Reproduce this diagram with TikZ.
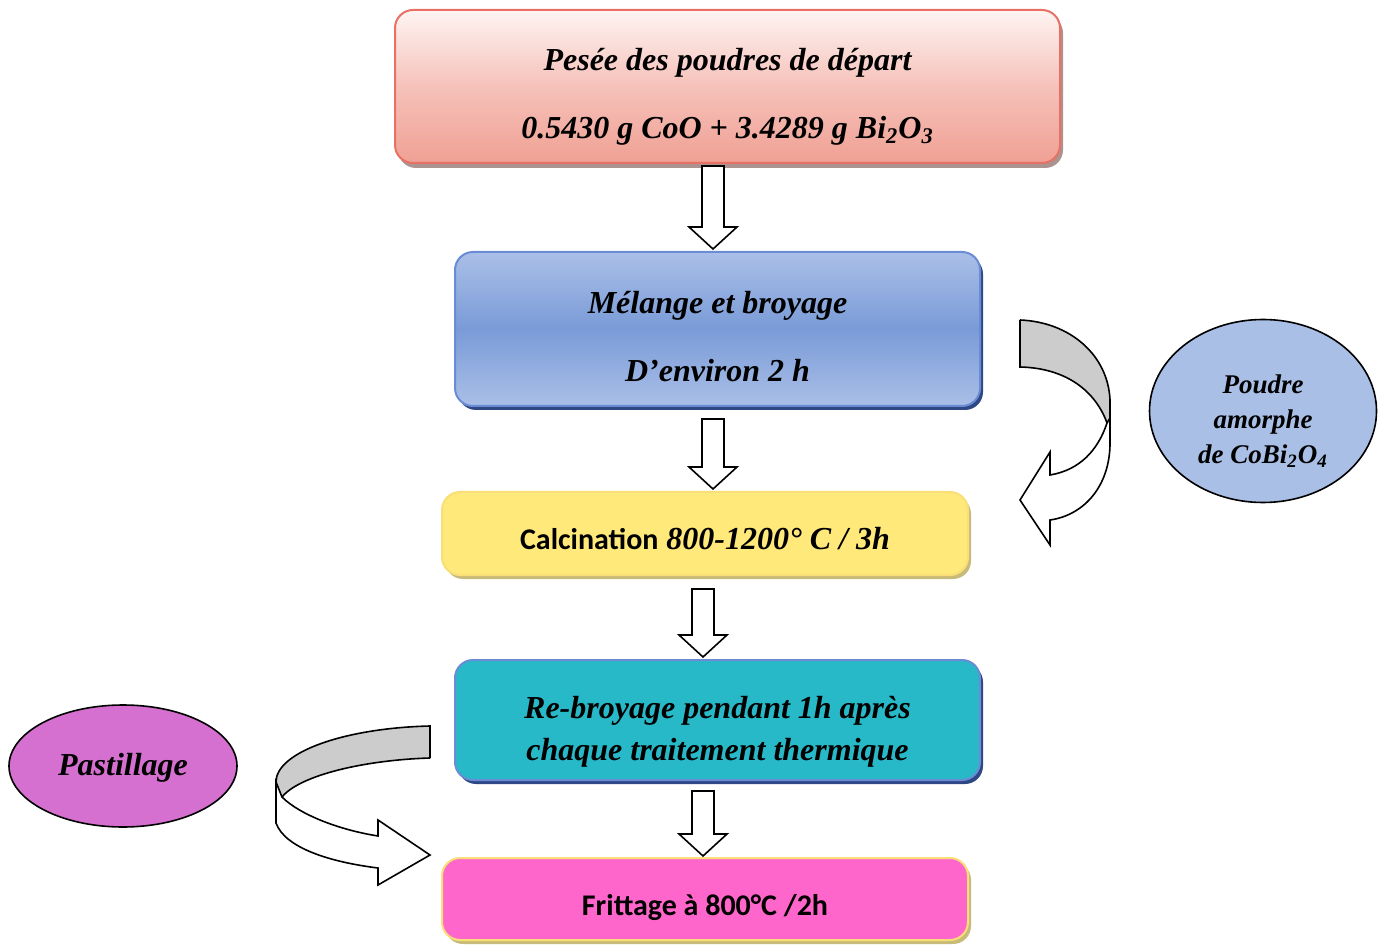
\documentclass[tikz,border=0pt]{standalone}
\usepackage{fontspec}
\setmainfont{Liberation Serif}
\newfontfamily\carlito{Carlito}
\usetikzlibrary{shapes.geometric,shadows,calc}

\definecolor{salmonedge}{RGB}{232,112,100}
\definecolor{salmonbot}{RGB}{240,160,148}
\definecolor{salmontop}{RGB}{254,244,242}
\definecolor{salmonshadow}{RGB}{150,120,115}
\definecolor{bluelight}{RGB}{170,191,231}
\definecolor{bluemid}{RGB}{122,155,216}
\definecolor{blueedge}{RGB}{105,140,212}
\definecolor{navyshadow}{RGB}{45,72,132}
\definecolor{yellowfill}{RGB}{255,233,122}
\definecolor{yellowedge}{RGB}{250,222,120}
\definecolor{tanshadow}{RGB}{200,186,120}
\definecolor{tealfill}{RGB}{40,185,200}
\definecolor{pinkfill}{RGB}{255,102,204}
\definecolor{poudrefill}{RGB}{169,191,230}
\definecolor{pastfill}{RGB}{214,112,208}
\definecolor{bandgray}{RGB}{204,204,204}

\tikzset{
  stepbox/.style={rounded corners=9pt, line width=1pt, inner sep=0pt},
  serifbi/.style={font=\bfseries\itshape\fontsize{16}{34}\selectfont, align=center},
  bubble/.style={ellipse, draw=black, line width=0.8pt, inner sep=0pt},
  band/.style={draw=black, line width=0.8pt, line join=miter},
  hollowarrow/.style={band, fill=white, to path={
      let \p1=(\tikztostart), \p2=(\tikztotarget) in
      (\x1-5.5pt,\y1) -- (\x1-5.5pt,\y2+11pt) -- (\x1-12pt,\y2+11pt) --
      (\x1,\y2) -- (\x1+12pt,\y2+11pt) -- (\x1+5.5pt,\y2+11pt) --
      (\x1+5.5pt,\y1) -- cycle}}
}

\begin{document}
\begin{tikzpicture}[x=0.5pt,y=-0.5pt]
\useasboundingbox (0,0) rectangle (1384,945);

% process steps
\node[stepbox, draw=salmonedge, top color=salmontop, bottom color=salmonbot,
      middle color=salmonbot!60!salmontop,
      drop shadow={shadow xshift=1.5pt, shadow yshift=-2.5pt, fill=salmonshadow, opacity=0.8},
      minimum width=332.5pt, minimum height=76.5pt] (pesee) at (727.5,86.5) {};
\node[serifbi] (pesee-t) at ([yshift=-5pt]pesee.center)
  {Pesée des poudres de départ\\0.5430 g CoO + 3.4289 g Bi\textsubscript{2}O\textsubscript{3}};

\node[stepbox, draw=blueedge, top color=bluelight, bottom color=bluelight, middle color=bluemid,
      drop shadow={shadow xshift=1.5pt, shadow yshift=-2pt, fill=navyshadow, opacity=1},
      minimum width=262.5pt, minimum height=77pt] (melange) at (717.5,329) {};
\node[serifbi] (melange-t) at ([yshift=-3.8pt]melange.center)
  {Mélange et broyage\\D’environ 2 h};

\node[stepbox, draw=yellowedge, fill=yellowfill,
      drop shadow={shadow xshift=1.5pt, shadow yshift=-2pt, fill=tanshadow, opacity=1},
      minimum width=263pt, minimum height=41.5pt] (calc) at (705,533.5) {};
\node[font=\fontsize{16}{20}\selectfont] (calc-t) at ([yshift=-2.5pt]calc.center)
  {{\carlito\bfseries\fontsize{15}{20}\selectfont Calcination} \textbf{\textit{800-1200° C / 3h}}};

\node[stepbox, draw=blueedge, fill=tealfill,
      drop shadow={shadow xshift=1.5pt, shadow yshift=-2pt, fill=navyshadow, opacity=1},
      minimum width=262.5pt, minimum height=60pt] (rebroyage) at (717.5,720) {};
\node[serifbi, font=\bfseries\itshape\fontsize{16}{21}\selectfont] (rebroyage-t)
  at ([yshift=-6pt]rebroyage.center)
  {Re-broyage pendant 1h après\\chaque traitement thermique};

\node[stepbox, draw=yellowedge, fill=pinkfill,
      drop shadow={shadow xshift=1.5pt, shadow yshift=-2pt, fill=tanshadow, opacity=1},
      minimum width=263pt, minimum height=41pt] (frittage) at (705,899) {};
\node[font=\carlito\bfseries\fontsize{15}{20}\selectfont] (frittage-t)
  at ([yshift=-4.5pt]frittage.center) {Frittage à 800°C /2h};

% side products
\node[bubble, fill=poudrefill, minimum width=113.5pt, minimum height=91.5pt]
  (poudre) at (1263,411) {};
\node[font=\bfseries\itshape\fontsize{13.5}{17.5}\selectfont, align=center]
  (poudre-t) at ([yshift=-5pt]poudre.center)
  {Poudre\\amorphe\\de CoBi\textsubscript{2}O\textsubscript{4}};
\node[bubble, fill=pastfill, minimum width=114pt, minimum height=61pt]
  (pastillage) at (123,766) {};
\node[font=\bfseries\itshape\fontsize{16}{20}\selectfont]
  (pastillage-t) at ([yshift=-1pt]pastillage.center) {Pastillage};

% hollow arrows between steps
\coordinate (axA) at (713,0);
\coordinate (axB) at (703,0);
\draw[hollowarrow] ([yshift=-1pt]pesee.south -| axA) to ([yshift=1pt]melange.north -| axA);
\draw[hollowarrow] ([yshift=-6pt]melange.south -| axA) to ([yshift=1pt]calc.north -| axA);
\draw[hollowarrow] ([yshift=-6.5pt]calc.south -| axB) to ([yshift=1pt]rebroyage.north -| axB);
\draw[hollowarrow] ([yshift=-5pt]rebroyage.south -| axB) to ([yshift=0.5pt]frittage.north -| axB);

% curved band on the right, pointing back to the calcination step
\fill[bandgray] (1020,320) .. controls (1070,322) and (1108,355) .. (1110,400)
  -- (1110,420) -- (1107,423) .. controls (1095,390) and (1065,368) .. (1020,367) -- cycle;
\draw[band] (1020,320) .. controls (1070,322) and (1108,355) .. (1110,400) -- (1110,420)
  (1107,423) .. controls (1095,390) and (1065,368) .. (1020,367) -- (1020,320);
\draw[band, fill=white] (1107,423) .. controls (1098,450) and (1080,470) .. (1050,475)
  -- (1050,452) -- (1020,500) -- (1050,545) -- (1050,520)
  .. controls (1085,515) and (1110,485) .. (1110,443) -- (1110,418) -- cycle;

% curved band on the left, pointing to the sintering step
\fill[bandgray] (430,726) .. controls (345,728) and (276,752) .. (276,782)
  -- (276,790) -- (282,797) .. controls (300,775) and (365,760) .. (430,758) -- cycle;
\draw[band] (430,758) -- (430,726) .. controls (345,728) and (276,752) .. (276,782)
  (282,797) .. controls (300,775) and (365,760) .. (430,758);
\draw[band, fill=white] (282,797) .. controls (300,815) and (340,830) .. (378,836)
  -- (378,820) -- (430,855) -- (378,885) -- (378,868)
  .. controls (330,862) and (285,848) .. (276,823) -- (276,782) -- cycle;
\end{tikzpicture}
\end{document}
